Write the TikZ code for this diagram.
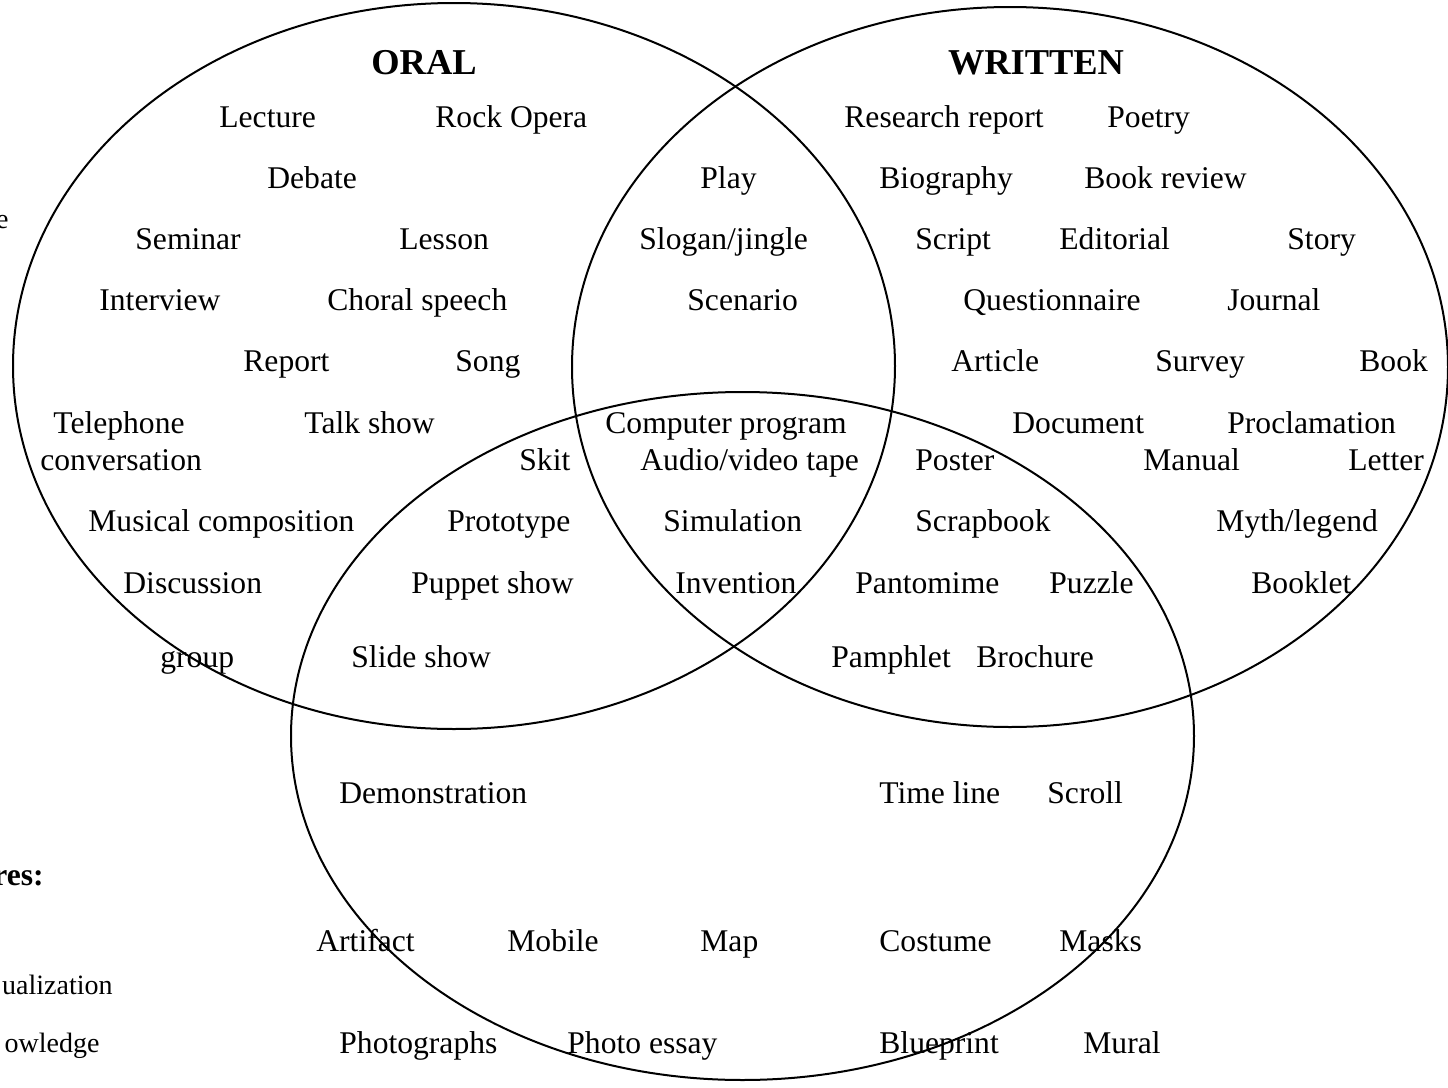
\documentclass[tikz,border=0pt]{standalone}
\usepackage{fontspec}
\setmainfont{Liberation Serif}
\begin{document}
\begin{tikzpicture}[x=0.5pt,y=-0.5pt,
  lbl/.style={anchor=base west,inner sep=0pt,font=\fontsize{15.8}{19}\selectfont},
  ttl/.style={anchor=base,inner sep=0pt,font=\fontsize{18.2}{22}\selectfont\bfseries},
  side/.style={anchor=base east,inner sep=0pt,font=\fontsize{14}{17}\selectfont},
  ring/.style={draw=black,line width=1pt}]
\useasboundingbox (0,0) rectangle (1448,1088);
\clip (0,0) rectangle (1448,1088);
\fill[white] (0,0) rectangle (1448,1088);
% circles
\draw[ring] (454,366) ellipse [x radius=220.5pt, y radius=181.5pt];
\draw[ring] (1010,367) ellipse [x radius=219pt, y radius=180pt];
\draw[ring] (742.5,736) ellipse [x radius=225.75pt, y radius=172pt];
% titles
\node[ttl] (oral) at (424,74) {ORAL};
\node[ttl] (written) at (1036,74) {WRITTEN};
% side fragments
\node[side] (s1) at (9,228) {e};
\node[side,font=\fontsize{15.8}{19}\selectfont\bfseries] (s2) at (44,885) {res:};
\node[side] (s3) at (113,994) {ualization};
\node[side] (s4) at (100,1052) {owledge};
% row 117
\node[lbl] (lecture) at (219,127) {Lecture};
\node[lbl] (rockopera) at (435,127) {Rock Opera};
\node[lbl] (research) at (844,127) {Research report};
\node[lbl] (poetry) at (1107,127) {Poetry};
% row 178
\node[lbl] (debate) at (267,188) {Debate};
\node[lbl] (play) at (700,188) {Play};
\node[lbl] (biography) at (879,188) {Biography};
\node[lbl] (bookreview) at (1084,188) {Book review};
% row 239
\node[lbl] (seminar) at (135,249) {Seminar};
\node[lbl] (lesson) at (399,249) {Lesson};
\node[lbl] (slogan) at (639,249) {Slogan/jingle};
\node[lbl] (script) at (915,249) {Script};
\node[lbl] (editorial) at (1059,249) {Editorial};
\node[lbl] (story) at (1287,249) {Story};
% row 300
\node[lbl] (interview) at (99,310) {Interview};
\node[lbl] (choral) at (327,310) {Choral speech};
\node[lbl] (scenario) at (687,310) {Scenario};
\node[lbl] (question) at (963,310) {Questionnaire};
\node[lbl] (journal) at (1227,310) {Journal};
% row 361
\node[lbl] (report) at (243,371) {Report};
\node[lbl] (song) at (455,371) {Song};
\node[lbl] (article) at (951,371) {Article};
\node[lbl] (survey) at (1155,371) {Survey};
\node[lbl] (book) at (1359,371) {Book};
% row 423
\node[lbl] (telephone) at (53,433) {Telephone};
\node[lbl] (talkshow) at (304,433) {Talk show};
\node[lbl] (computer) at (605,433) {Computer program};
\node[lbl] (document) at (1012,433) {Document};
\node[lbl] (proclamation) at (1227,433) {Proclamation};
% row 460
\node[lbl] (conversation) at (40,470) {conversation};
\node[lbl] (skit) at (519,470) {Skit};
\node[lbl] (audio) at (640,470) {Audio/video tape};
\node[lbl] (poster) at (915,470) {Poster};
\node[lbl] (manual) at (1143,470) {Manual};
\node[lbl] (letter) at (1348,470) {Letter};
% row 521
\node[lbl] (musical) at (88,531) {Musical composition};
\node[lbl] (prototype) at (447,531) {Prototype};
\node[lbl] (simulation) at (663,531) {Simulation};
\node[lbl] (scrapbook) at (915,531) {Scrapbook};
\node[lbl] (myth) at (1216,531) {Myth/legend};
% row 583
\node[lbl] (discussion) at (123,593) {Discussion};
\node[lbl] (puppet) at (411,593) {Puppet show};
\node[lbl] (invention) at (675,593) {Invention};
\node[lbl] (pantomime) at (855,593) {Pantomime};
\node[lbl] (puzzle) at (1049,593) {Puzzle};
\node[lbl] (booklet) at (1251,593) {Booklet};
% row 657
\node[lbl] (group) at (160,667) {group};
\node[lbl] (slideshow) at (351,667) {Slide show};
\node[lbl] (pamphlet) at (831,667) {Pamphlet};
\node[lbl] (brochure) at (976,667) {Brochure};
% row 793
\node[lbl] (demo) at (339,803) {Demonstration};
\node[lbl] (timeline) at (879,803) {Time line};
\node[lbl] (scroll) at (1047,803) {Scroll};
% row 941
\node[lbl] (artifact) at (316,951) {Artifact};
\node[lbl] (mobile) at (507,951) {Mobile};
\node[lbl] (map) at (700,951) {Map};
\node[lbl] (costume) at (879,951) {Costume};
\node[lbl] (masks) at (1059,951) {Masks};
% row 1043
\node[lbl] (photographs) at (339,1053) {Photographs};
\node[lbl] (photoessay) at (567,1053) {Photo essay};
\node[lbl] (blueprint) at (879,1053) {Blueprint};
\node[lbl] (mural) at (1083,1053) {Mural};
\end{tikzpicture}
\end{document}
